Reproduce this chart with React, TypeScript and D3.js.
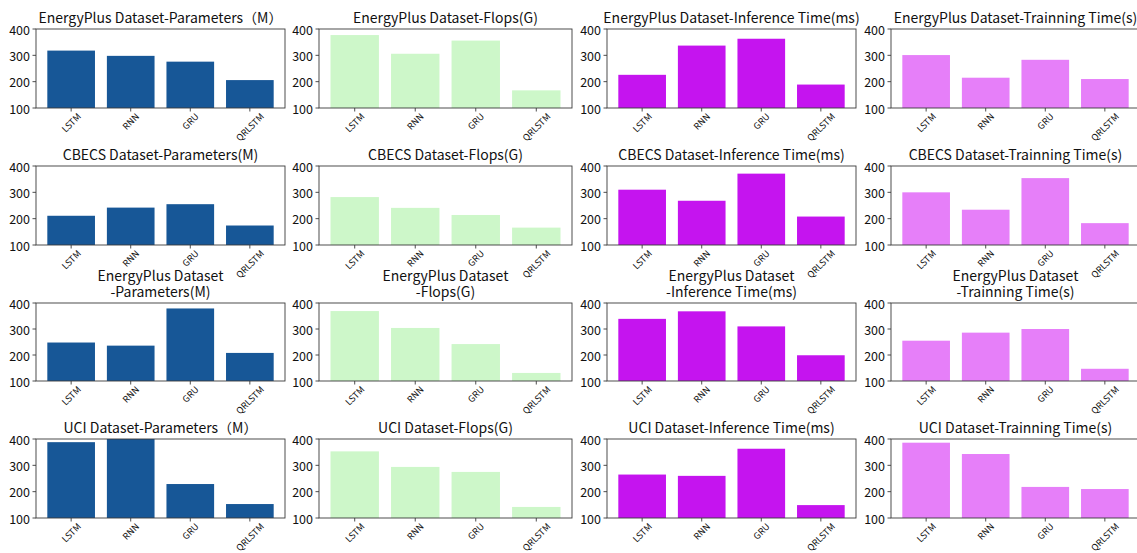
import React from "react";
import * as d3 from "d3";

const models = ["LSTM", "RNN", "GRU", "QRLSTM"];
const yTicks = [100, 200, 300, 400];

const energyParams = [318, 298, 276, 206];
const energyFlops = [377, 306, 356, 167];
const energyInfer = [226, 337, 363, 189];
const energyTrain = [301, 215, 283, 210];

const cbecsParams = [211, 242, 255, 174];
const cbecsFlops = [282, 241, 214, 166];
const cbecsInfer = [310, 268, 371, 208];
const cbecsTrain = [300, 234, 354, 183];

const energy2Params = [248, 236, 379, 208];
const energy2Flops = [369, 304, 242, 131];
const energy2Infer = [339, 368, 310, 199];
const energy2Train = [255, 286, 300, 147];

const uciParams = [388, 410, 229, 153];
const uciFlops = [353, 294, 275, 142];
const uciInfer = [265, 260, 363, 149];
const uciTrain = [386, 343, 218, 210];

const titles = [
  ["EnergyPlus Dataset-Parameters（M）"],
  ["EnergyPlus Dataset-Flops(G)"],
  ["EnergyPlus Dataset-Inference Time(ms)"],
  ["EnergyPlus Dataset-Trainning Time(s)"],
  ["CBECS Dataset-Parameters(M)"],
  ["CBECS Dataset-Flops(G)"],
  ["CBECS Dataset-Inference Time(ms)"],
  ["CBECS Dataset-Trainning Time(s)"],
  ["EnergyPlus Dataset", "-Parameters(M)"],
  ["EnergyPlus Dataset", "-Flops(G)"],
  ["EnergyPlus Dataset", "-Inference Time(ms)"],
  ["EnergyPlus Dataset", "-Trainning Time(s)"],
  ["UCI Dataset-Parameters（M）"],
  ["UCI Dataset-Flops(G)"],
  ["UCI Dataset-Inference Time(ms)"],
  ["UCI Dataset-Trainning Time(s)"],
];

const series = [
  energyParams, energyFlops, energyInfer, energyTrain,
  cbecsParams, cbecsFlops, cbecsInfer, cbecsTrain,
  energy2Params, energy2Flops, energy2Infer, energy2Train,
  uciParams, uciFlops, uciInfer, uciTrain,
];

const colors = ["#175797", "#cdf7c9", "#c514ef", "#e67ff9"];

const colLayout = [
  { left: 36, width: 249 },
  { left: 319, width: 253 },
  { left: 607, width: 249 },
  { left: 891, width: 249 },
];
const rowLayout = [
  { top: 29, height: 79 },
  { top: 166, height: 79 },
  { top: 303, height: 78 },
  { top: 439, height: 79 },
];

const FONT = "'Noto Sans CJK SC', 'Noto Sans', sans-serif";
const XFONT_SIZE = 9;
const LINE_GAP = 16;

let ctx: CanvasRenderingContext2D | null = null;
function measure(t: string, size: number): number {
  if (!ctx) {
    const c = document.createElement("canvas");
    ctx = c.getContext("2d");
  }
  if (!ctx) return t.length * size * 0.6;
  ctx.font = `${size}px ${FONT}`;
  return ctx.measureText(t).width;
}

function Panel({ idx }: { idx: number }) {
  const row = Math.floor(idx / 4);
  const col = idx % 4;
  const { left, width } = colLayout[col];
  const { top, height } = rowLayout[row];
  const values = series[idx];
  const color = colors[col];
  const x = d3.scaleLinear().domain([-0.59, 3.59]).range([left, left + width]);
  const y = d3.scaleLinear().domain([100, 400]).range([top + height, top]);
  const bottom = top + height;
  const clipId = `clip${idx}`;
  const title = titles[idx];
  const cx = left + width / 2;
  const firstBaseline = top - 6 - (title.length - 1) * LINE_GAP;
  return (
    <g>
      <defs>
        <clipPath id={clipId}>
          <rect x={left} y={top} width={width} height={height} />
        </clipPath>
      </defs>
      <g clipPath={`url(#${clipId})`}>
        {values.map((v, i) => (
          <rect
            key={i}
            x={x(i - 0.4)}
            width={x(0.8) - x(0)}
            y={y(v)}
            height={bottom - y(v)}
            fill={color}
          />
        ))}
      </g>
      <rect x={left} y={top} width={width} height={height} fill="none" stroke="#3a3a3a" strokeWidth={0.9} />
      {yTicks.map((t) => (
        <g key={t}>
          <line x1={left - 3.5} x2={left} y1={y(t)} y2={y(t)} stroke="#3a3a3a" strokeWidth={0.9} />
          <text
            x={left - 6}
            y={y(t)}
            textAnchor="end"
            dominantBaseline="central"
            fontSize={12.5}
            fontFamily={FONT}
            fill="#111"
          >
            {t}
          </text>
        </g>
      ))}
      {models.map((m, i) => {
        const w = measure(m, XFONT_SIZE);
        const bb = (w + XFONT_SIZE) * Math.SQRT1_2;
        const cy = bottom + 3.5 + bb / 2;
        return (
          <g key={m}>
            <line x1={x(i)} x2={x(i)} y1={bottom} y2={bottom + 3.5} stroke="#3a3a3a" strokeWidth={0.9} />
            <text
              x={x(i)}
              y={cy}
              textAnchor="middle"
              dominantBaseline="central"
              fontSize={XFONT_SIZE}
              fontFamily={FONT}
              fill="#111"
              transform={`rotate(-45 ${x(i)} ${cy})`}
            >
              {m}
            </text>
          </g>
        );
      })}
      <text
        x={cx}
        y={firstBaseline}
        textAnchor="middle"
        fontSize={14}
        fontFamily={FONT}
        fill="#111"
      >
        {title.map((t, k) => (
          <tspan key={k} x={cx} dy={k === 0 ? 0 : LINE_GAP}>
            {t}
          </tspan>
        ))}
      </text>
    </g>
  );
}

export default function App() {
  return (
    <svg
      width={1137}
      height={553}
      style={{ position: "absolute", left: 0, top: 0, background: "#fff" }}
    >
      <rect width={1137} height={553} fill="#fff" />
      {series.map((_, i) => (
        <Panel key={i} idx={i} />
      ))}
    </svg>
  );
}
